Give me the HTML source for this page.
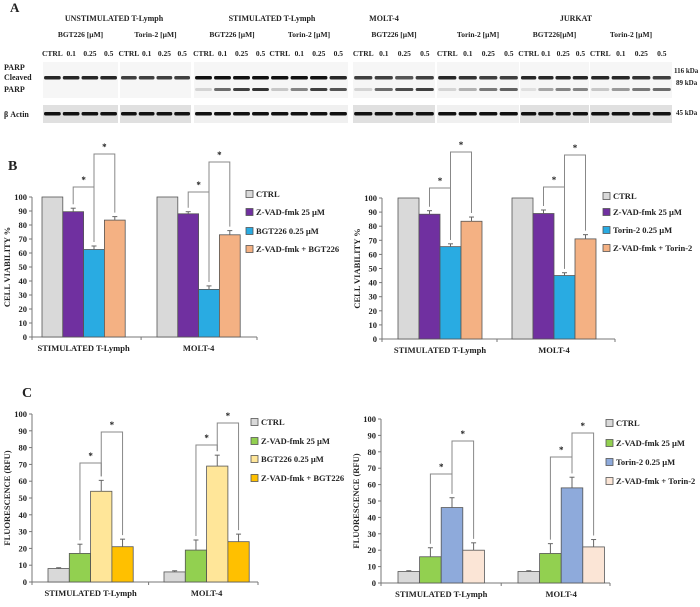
<!DOCTYPE html>
<html><head><meta charset="utf-8">
<style>
body{margin:0;background:#fff;}
svg text{font-family:"Liberation Serif",serif;font-weight:bold;fill:#222;}
</style></head>
<body>
<svg id="fig" width="700" height="602" viewBox="0 0 700 602" xmlns="http://www.w3.org/2000/svg">
<g id="panelA">
<text x="10" y="12" font-size="13">A</text>
<text x="114" y="21" font-size="8" text-anchor="middle">UNSTIMULATED T-Lymph</text>
<text x="272" y="21" font-size="8" text-anchor="middle">STIMULATED T-Lymph</text>
<text x="384" y="21" font-size="8" text-anchor="middle">MOLT-4</text>
<text x="576" y="21" font-size="8" text-anchor="middle">JURKAT</text>
<text x="4" y="70" font-size="8">PARP</text>
<text x="4" y="80" font-size="8">Cleaved</text>
<text x="4" y="92" font-size="8">PARP</text>
<text x="4" y="117" font-size="8">β Actin</text>
<text x="674" y="73" font-size="7">116 kDa</text>
<text x="676" y="85" font-size="7">89 kDa</text>
<text x="676" y="115" font-size="7">45 kDa</text>
</g>
<g id="charts"></g>
</svg>
<script>
const NS="http://www.w3.org/2000/svg";
const fig=document.getElementById('fig');
const pa=document.getElementById('panelA');
function mk(tag,attrs,parent){const e=document.createElementNS(NS,tag);for(const k in attrs)e.setAttribute(k,attrs[k]);(parent||fig).appendChild(e);return e;}

// ---- Western blot data ----
const blotStarts=[43,120,194,270,353,437,520,590];
const blotEnds=[118,191,270,348,435,519,589,672];
const blotDrugs=["BGT226  [µM]","Torin-2  [µM]","BGT226  [µM]","Torin-2  [µM]","BGT226  [µM]","Torin-2  [µM]","BGT226[µM]","Torin-2  [µM]"];
const laneLabels=["CTRL","0.1","0.25","0.5"];
const parpIntensity=[[0.9,0.9,0.9,0.9],[0.8,0.8,0.8,0.8],[1,1,1,1],[1,1,1,0.9],[0.8,0.8,0.7,0.8],[0.9,0.85,0.8,0.8],[0.9,0.9,0.9,0.9],[0.9,0.9,0.85,0.8]];
const cleavedIntensity=[[0,0,0,0],[0,0,0,0],[0.15,0.6,0.8,0.85],[0.2,0.5,0.8,0.7],[0.15,0.6,0.75,0.8],[0.15,0.3,0.55,0.65],[0.1,0.35,0.5,0.5],[0.2,0.4,0.55,0.6]];

blotStarts.forEach((x0,b)=>{
  const x1=blotEnds[b], w=x1-x0;
  const g=mk('g',{},pa);
  
  
  const t=mk('text',{x:x0+w/2,y:37,'font-size':7.5,'text-anchor':'middle'},g);
  t.textContent=blotDrugs[b];
  
  
  const bg=mk('rect',{x:x0,y:62,width:w,height:36,fill:'#f6f6f6'},g);
  
  
  const ab=mk('rect',{x:x0,y:105,width:w,height:18,fill:(b<2||b==4||b==6||b==7)?'#e0e0e0':'#f0f0f0'},g);
  
  
  for(let i=0;i<4;i++){
    const cx=x0+(i+0.5)*w/4;
    const lt=mk('text',{x:cx,y:56,'font-size':7.5,'text-anchor':'middle'},g);
    lt.textContent=laneLabels[i];
    
    
    const pb=mk('rect',{x:cx-w/9,y:76,width:2*w/9,height:3.5,rx:1.5,fill:'#111','fill-opacity':parpIntensity[b][i]},g);
    
    
    if(cleavedIntensity[b][i]>0){
      const cb=mk('rect',{x:cx-w/9,y:88,width:2*w/9,height:3,rx:1.5,fill:'#111','fill-opacity':cleavedIntensity[b][i]},g);
      
      
    }
    const ac=mk('rect',{x:cx-w/9,y:112,width:2*w/9,height:3.5,rx:1.5,fill:'#111'},g);
    
    
  }
});

// ---- Chart data ----
const groups=["STIMULATED T-Lymph","MOLT-4"];
const groupsC=["STIMULATED    T-Lymph","MOLT-4"];
const yTicks=[0,10,20,30,40,50,60,70,80,90,100];
const bgtViability=[[100,89.5,62.5,83.5],[100,88,34,73]];
const bgtViabilityErr=[[0,2.5,2.5,2.5],[0,1.5,2.5,3]];
const torViability=[[100,88.5,65.5,83.5],[100,89,45,71]];
const torViabilityErr=[[0,2.5,2,3],[0,2.5,2,3]];
const bgtFluor=[[8,17,54,21],[6,19,69,24]];
const bgtFluorErr=[[0.5,5.5,6.5,4.5],[0.7,6,6.5,4.5]];
const torFluor=[[7,16,46,20],[7,18,58,22]];
const torFluorErr=[[0.5,5.5,6,4.5],[0.5,6,6.5,4.5]];
const legB1=["CTRL","Z-VAD-fmk  25 µM","BGT226 0.25 µM","Z-VAD-fmk + BGT226"];
const legB2=["CTRL","Z-VAD-fmk  25 µM","Torin-2  0.25 µM","Z-VAD-fmk + Torin-2"];
const legC1=["CTRL","Z-VAD-fmk  25 µM","BGT226 0.25 µM","Z-VAD-fmk  + BGT226"];
const legC2=["CTRL","Z-VAD-fmk  25 µM","Torin-2  0.25 µM","Z-VAD-fmk + Torin-2"];

const charts=document.getElementById('charts');
function chart(o){
  const g=mk('g',{},charts);
  
  
  const y=v=>o.y0-(v/100)*(o.y0-o.y100);
  const ya=mk('line',{x1:o.ax,y1:o.y100,x2:o.ax,y2:o.y0,stroke:'#777','stroke-width':1},g);
  
  
  const xa=mk('line',{x1:o.ax,y1:o.y0,x2:o.axEnd,y2:o.y0,stroke:'#777','stroke-width':1},g);
  
  
  yTicks.forEach(v=>{
    const tk=mk('line',{x1:o.ax-3,y1:y(v),x2:o.ax,y2:y(v),stroke:'#777'},g);
    
    
    const tl=mk('text',{x:o.ax-5,y:y(v)+3,'font-size':8.5,'text-anchor':'end'},g);
    tl.textContent=v;
    
    
  });
  const mid=(o.gx[0]+4*o.bw+o.gx[1])/2;
  [o.ax,mid,o.axEnd].forEach(xx=>{const t=mk('line',{x1:xx,y1:o.y0,x2:xx,y2:o.y0+3,stroke:'#777'},g);});
  const yt=mk('text',{x:0,y:0,'font-size':8.5,'text-anchor':'middle',transform:`translate(${o.ax-22},${(o.y0+o.y100)/2}) rotate(-90)`},g);
  yt.textContent=o.ytitle;
  
  
  o.vals.forEach((gv,gi)=>{
    const gl=mk('text',{x:o.gx[gi]+2*o.bw,y:o.y0+14,'font-size':8.5,'text-anchor':'middle'},g);
    gl.textContent=o.groups[gi];
    
    
    const tops=[];
    gv.forEach((v,i)=>{
      const x=o.gx[gi]+i*o.bw;
      const r=mk('rect',{x:x,y:y(v),width:o.bw,height:o.y0-y(v),fill:o.colors[i],stroke:'#555','stroke-width':0.8},g);
      
      
      const e=o.errs[gi][i];
      const cx=x+o.bw/2;
      if(e>0){
        const el=mk('line',{x1:cx,y1:y(v),x2:cx,y2:y(v+e),stroke:'#666','stroke-width':1},g);
        
        
        const ec=mk('line',{x1:cx-2.5,y1:y(v+e),x2:cx+2.5,y2:y(v+e),stroke:'#666','stroke-width':1},g);
        
        
      }
      tops.push({cx:cx,top:y(v+e)});
    });
    [[1,2,o.br[gi][0]],[2,3,o.br[gi][1]]].forEach(([a,b,by])=>{
      const p=mk('path',{d:`M${tops[a].cx},${tops[a].top-4} V${by} H${tops[b].cx} V${tops[b].top-4}`,fill:'none',stroke:'#888','stroke-width':1},g);
      
      
      const s=mk('text',{x:(tops[a].cx+tops[b].cx)/2,y:by-4,'font-size':9,'text-anchor':'middle'},g);
      s.textContent='*';
      
      
    });
  });
  o.legend.forEach((t,i)=>{
    const ly=o.ly[i];
    const sq=mk('rect',{x:o.lx,y:ly-3.5,width:7,height:7,fill:o.colors[i],stroke:'#555','stroke-width':0.8},g);
    
    
    const lt=mk('text',{x:o.lx+10,y:ly+3,'font-size':8.5},g);
    lt.textContent=t;
    
    
  });
  if(o.label){
    const L=mk('text',{x:o.label[0],y:o.label[1],'font-size':14},g);
    L.textContent=o.label[2];
    
    
  }
}
const cB=['#d9d9d9','#7030a0','#29abe2','#f4b183'];
chart({name:'viability-bgt226-chart',ax:32,axEnd:257,y0:337,y100:197,gx:[42,157],bw:20.8,vals:bgtViability,errs:bgtViabilityErr,colors:cB,groups:groups,ytitle:'CELL VIABILITY %',legend:legB1,lx:246,ly:[194,212,231,249],br:[[187,154],[192,162]],label:[8,170,'B']});
chart({name:'viability-torin2-chart',ax:382,axEnd:615,y0:339,y100:198,gx:[398,512],bw:21,vals:torViability,errs:torViabilityErr,colors:cB,groups:groups,ytitle:'CELL VIABILITY %',legend:legB2,lx:603,ly:[196,212,230,248],br:[[188,152],[187,155]]});
chart({name:'fluorescence-bgt226-chart',ax:32,axEnd:258,y0:582,y100:414,gx:[48,164],bw:21.3,vals:bgtFluor,errs:bgtFluorErr,colors:['#d9d9d9','#92d050','#ffe699','#ffc000'],groups:groupsC,ytitle:'FLUORESCENCE  (RFU)',legend:legC1,lx:251,ly:[422,441,459,478],br:[[463,432],[445,423]],label:[22,397,'C']});
chart({name:'fluorescence-torin2-chart',ax:381,axEnd:610,y0:583,y100:419,gx:[398,518],bw:21.6,vals:torFluor,errs:torFluorErr,colors:['#d9d9d9','#92d050','#8eaadb','#fbe5d6'],groups:groupsC,ytitle:'FLUORESCENCE  (RFU)',legend:legC2,lx:606,ly:[423,443,462,481],br:[[474,441],[457,433]]});
</script>
</body></html>
